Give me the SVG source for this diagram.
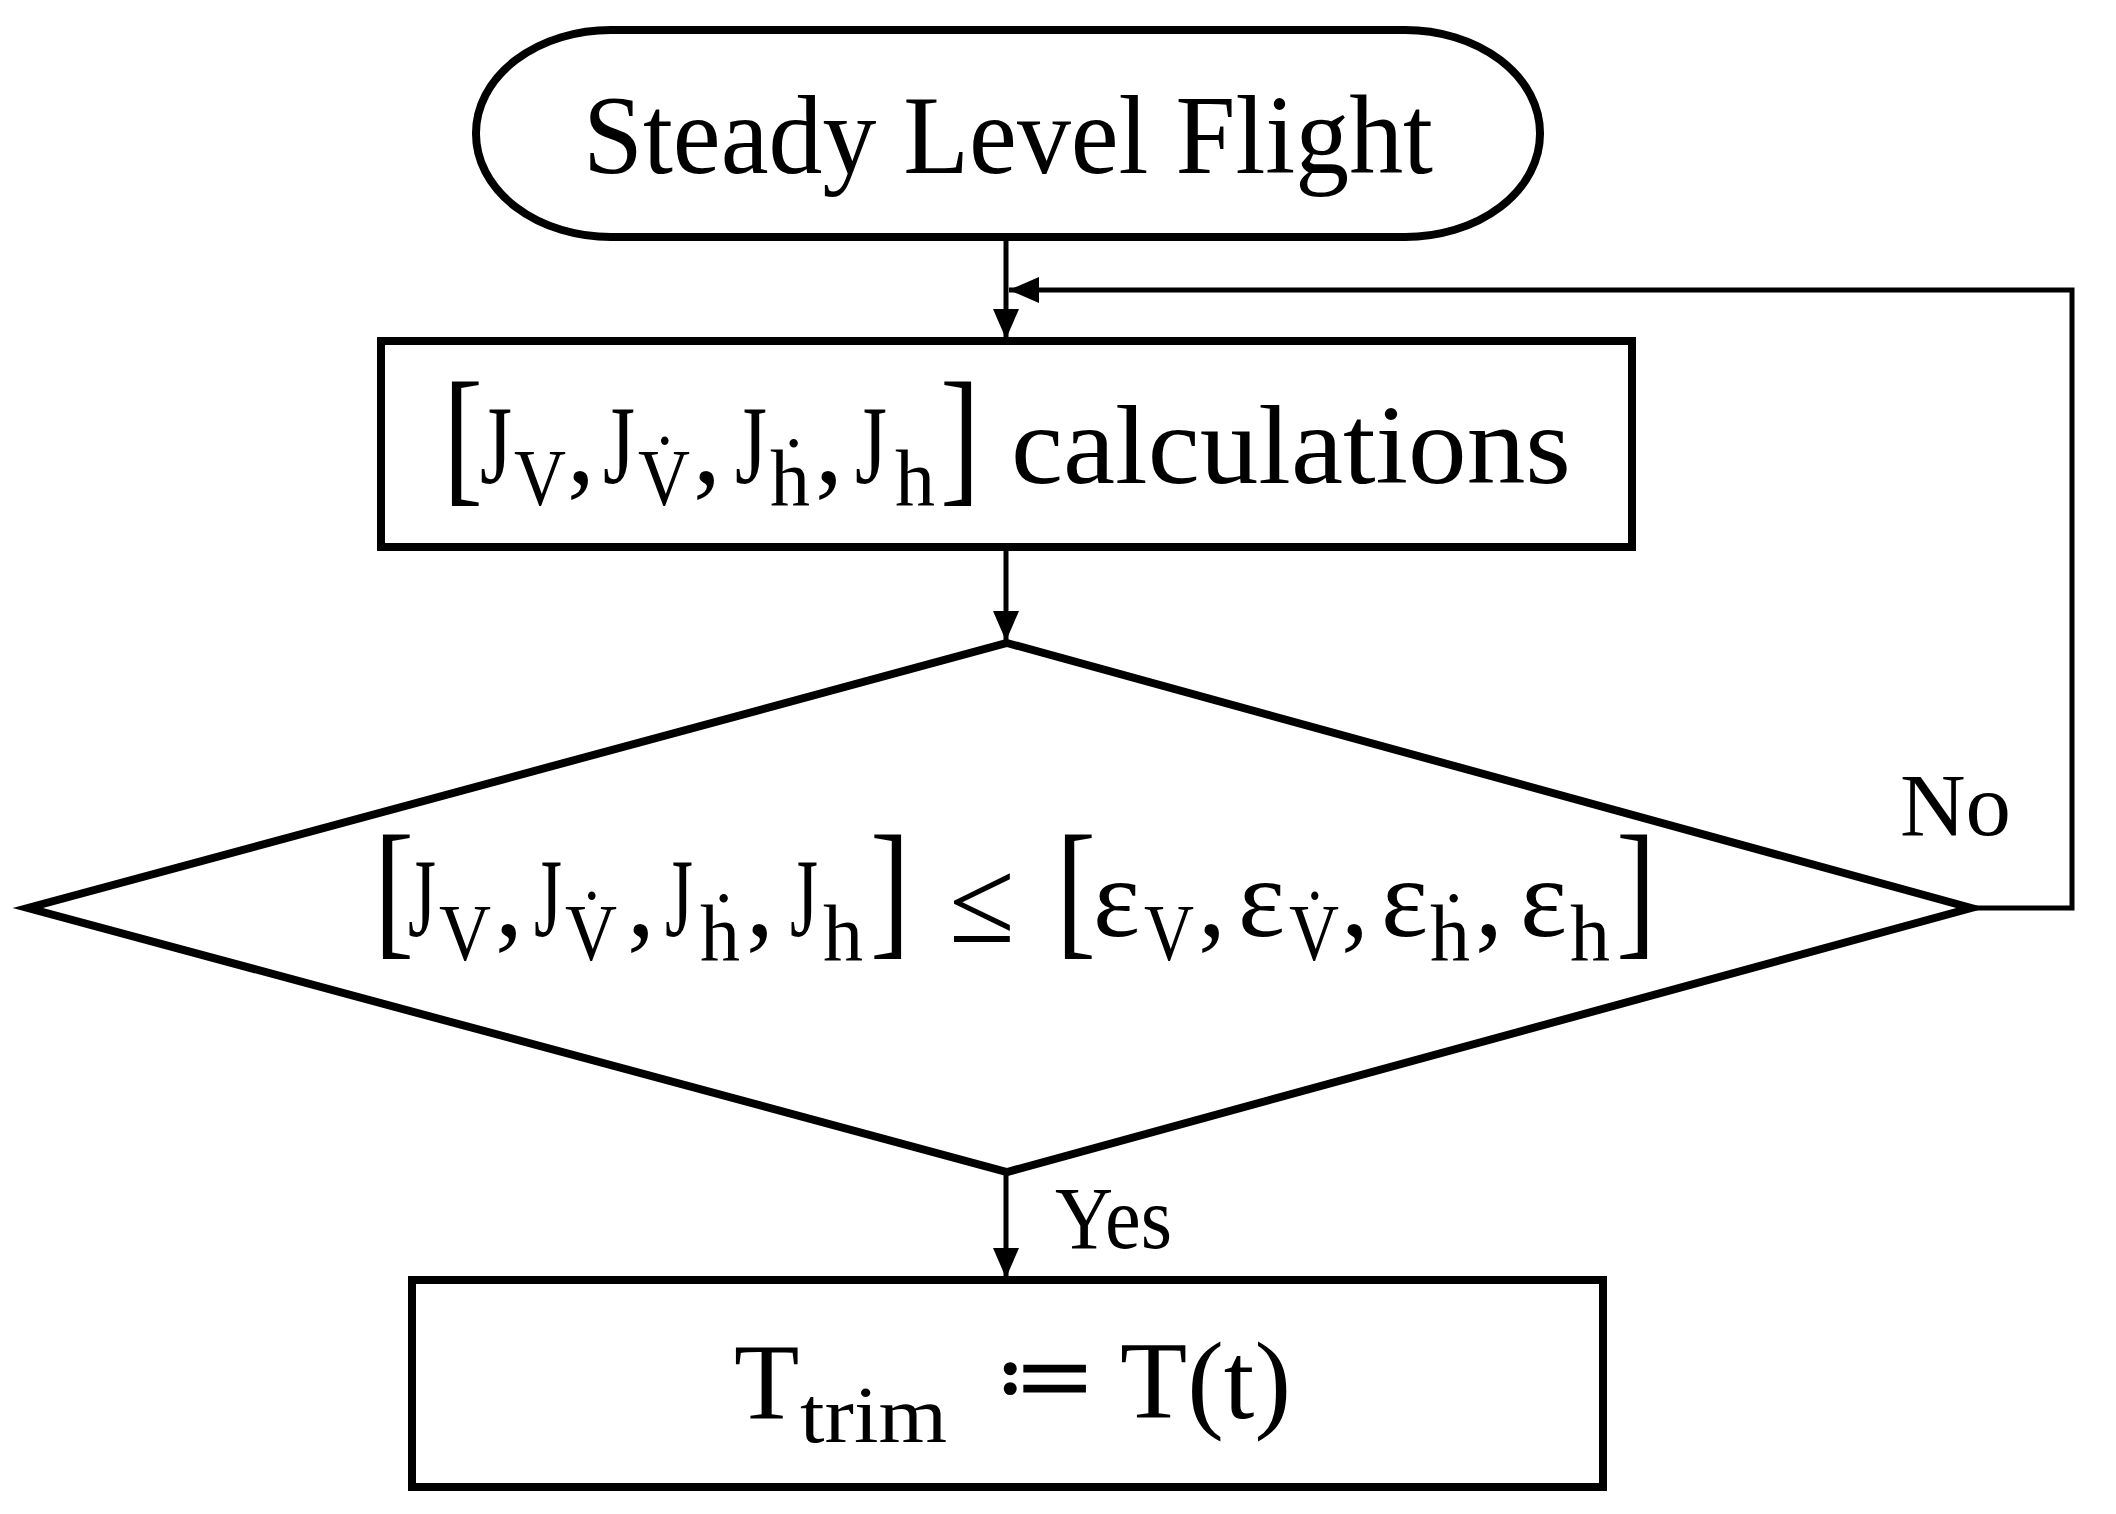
<svg xmlns="http://www.w3.org/2000/svg" width="2116" height="1514" viewBox="0 0 2116 1514">
<style>
.shape{fill:#fff;stroke:#000;stroke-width:8}
.conn{fill:none;stroke:#000;stroke-width:5}
.t{font-family:"Liberation Serif","DejaVu Serif",serif;fill:#000;font-size:112px}
.s{font-size:80px}
.b{font-size:150px}
.lbl{font-size:88px}
</style>
<defs>
<marker id="arr" markerUnits="userSpaceOnUse" markerWidth="30" markerHeight="26" refX="30" refY="13" orient="auto">
<path d="M0,0 L30,13 L0,26 z" fill="#000"/>
</marker>
</defs>
<rect width="2116" height="1514" fill="#fff"/>
<g id="connectors">
<path class="conn" d="M1006,237 L1006,339" marker-end="url(#arr)"/>
<path class="conn" d="M1006,547 L1006,641" marker-end="url(#arr)"/>
<path class="conn" d="M1006,1172 L1006,1278" marker-end="url(#arr)"/>
<path class="conn" d="M1971,908 L2072,908 L2072,290 L1009,290" marker-end="url(#arr)"/>
<text class="t lbl" x="1055" y="1248" textLength="117" lengthAdjust="spacingAndGlyphs">Yes</text>
<text class="t lbl" x="1900" y="835" textLength="111" lengthAdjust="spacingAndGlyphs">No</text>
</g>
<g id="start">
<rect class="shape" x="476" y="30" width="1064" height="207" rx="135" ry="103"/>
<text class="t" x="583" y="173" font-size="106" textLength="850" lengthAdjust="spacingAndGlyphs">Steady Level Flight</text>
</g>
<g id="calc">
<rect class="shape" x="381" y="341" width="1251" height="206"/>
<text class="t"><tspan class="b" x="443" y="486" textLength="40" lengthAdjust="spacingAndGlyphs">[</tspan><tspan x="480" y="483" textLength="32" lengthAdjust="spacingAndGlyphs">J</tspan><tspan class="s" x="514" y="505" textLength="52" lengthAdjust="spacingAndGlyphs">V</tspan><tspan x="567" y="483">,</tspan><tspan x="603" y="483" textLength="32" lengthAdjust="spacingAndGlyphs">J</tspan><tspan class="s" x="638" y="505" textLength="52" lengthAdjust="spacingAndGlyphs">V&#x307;</tspan><tspan x="693" y="483">,</tspan><tspan x="735" y="483" textLength="32" lengthAdjust="spacingAndGlyphs">J</tspan><tspan class="s" x="770" y="505">h&#x307;</tspan><tspan x="815" y="483">,</tspan><tspan x="855" y="483" textLength="32" lengthAdjust="spacingAndGlyphs">J</tspan><tspan class="s" x="895" y="505">h</tspan><tspan class="b" x="940" y="486" textLength="40" lengthAdjust="spacingAndGlyphs">]</tspan><tspan x="1011" y="483" textLength="560" lengthAdjust="spacingAndGlyphs">calculations</tspan></text>
</g>
<g id="check">
<polygon class="shape" points="1007,643 1971,908 1007,1172 28,908"/>
<text class="t"><tspan class="b" x="374" y="939" textLength="40" lengthAdjust="spacingAndGlyphs">[</tspan><tspan x="408" y="936" textLength="28" lengthAdjust="spacingAndGlyphs">J</tspan><tspan class="s" x="439" y="960" textLength="52" lengthAdjust="spacingAndGlyphs">V</tspan><tspan x="495" y="936">,</tspan><tspan x="534" y="936" textLength="28" lengthAdjust="spacingAndGlyphs">J</tspan><tspan class="s" x="565" y="960" textLength="52" lengthAdjust="spacingAndGlyphs">V&#x307;</tspan><tspan x="627" y="936">,</tspan><tspan x="665" y="936" textLength="28" lengthAdjust="spacingAndGlyphs">J</tspan><tspan class="s" x="700" y="960">h&#x307;</tspan><tspan x="746" y="936">,</tspan><tspan x="790" y="936" textLength="28" lengthAdjust="spacingAndGlyphs">J</tspan><tspan class="s" x="823" y="960">h</tspan><tspan class="b" x="870" y="939" textLength="40" lengthAdjust="spacingAndGlyphs">]</tspan><tspan x="949" y="942" font-size="120">≤</tspan><tspan class="b" x="1056" y="939" textLength="40" lengthAdjust="spacingAndGlyphs">[</tspan><tspan x="1093" y="936">ε</tspan><tspan class="s" x="1144" y="960" textLength="50" lengthAdjust="spacingAndGlyphs">V</tspan><tspan x="1198" y="936">,</tspan><tspan x="1238" y="936">ε</tspan><tspan class="s" x="1289" y="960" textLength="50" lengthAdjust="spacingAndGlyphs">V&#x307;</tspan><tspan x="1341" y="936">,</tspan><tspan x="1381" y="936">ε</tspan><tspan class="s" x="1430" y="960">h&#x307;</tspan><tspan x="1475" y="936">,</tspan><tspan x="1520" y="936">ε</tspan><tspan class="s" x="1570" y="960">h</tspan><tspan class="b" x="1616" y="939" textLength="40" lengthAdjust="spacingAndGlyphs">]</tspan></text>
</g>
<g id="trim">
<rect class="shape" x="412" y="1280" width="1191" height="207"/>
<text class="t"><tspan x="734" y="1418" font-size="107">T</tspan><tspan class="s" x="800" y="1442" textLength="147" lengthAdjust="spacingAndGlyphs">trim</tspan><tspan x="993" y="1410" font-size="100">≔</tspan><tspan x="1120" y="1418" font-size="110">T(t)</tspan></text>
</g>
</svg>
